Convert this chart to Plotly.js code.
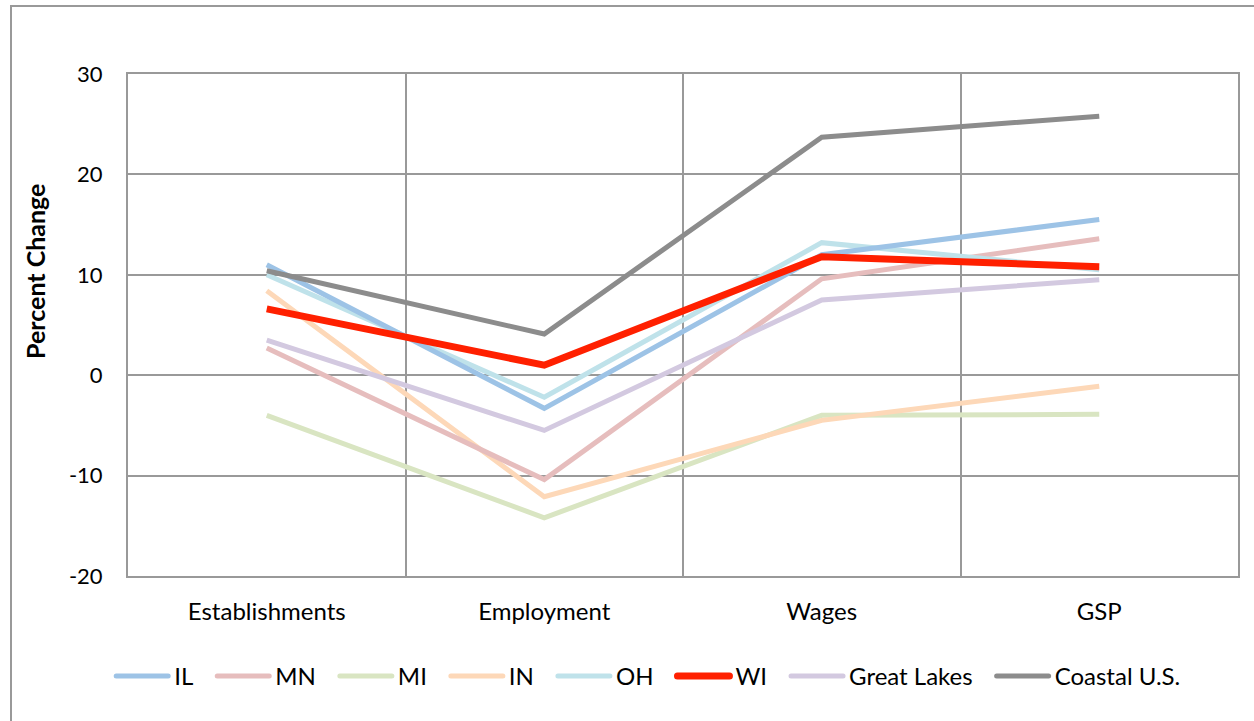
<!DOCTYPE html>
<html>
<head>
<meta charset="utf-8">
<script src="https://cdn.plot.ly/plotly-3.0.1.min.js"></script>
<style>html,body{margin:0;padding:0;background:#fff;}#chart{width:1254px;height:721px;}</style>
</head>
<body>
<div id="chart"></div>
<script>
const categories = ["Establishments", "Employment", "Wages", "GSP"];
const seriesNames = ["IL", "MN", "MI", "IN", "OH", "WI", "Great Lakes", "Coastal U.S."];
const IL = [11.0, -3.3, 12.0, 15.5];
const MN = [2.7, -10.4, 9.6, 13.6];
const MI = [-4.0, -14.2, -4.0, -3.9];
const IN = [8.4, -12.1, -4.5, -1.1];
const OH = [10.0, -2.2, 13.2, 10.5];
const WI = [6.6, 1.0, 11.8, 10.8];
const GreatLakes = [3.5, -5.5, 7.5, 9.5];
const Coastal = [10.4, 4.1, 23.7, 25.8];
const yTicks = [-20, -10, 0, 10, 20, 30];

const seriesValues = [IL, MN, MI, IN, OH, WI, GreatLakes, Coastal];
const colors = ["#9dc3e6", "#e6bdbd", "#d9e5c2", "#fdd8b8", "#bfe2ea", "#ff2000", "#d3c9e0", "#8c8c8c"];
const widths = [5, 5, 5, 5, 5, 7, 5, 5];

const order = [2, 3, 1, 6, 4, 0, 7, 5];
const traces = order.map(i => ({
  type: "scatter",
  mode: "lines",
  name: seriesNames[i],
  x: categories,
  y: seriesValues[i],
  line: {color: colors[i], width: widths[i]},
  legendrank: i + 1
}));

const font = "Lato, 'Open Sans', 'DejaVu Sans', sans-serif";
const layout = {
  width: 1254, height: 721,
  margin: {l: 128, r: 16, t: 74, b: 145},
  paper_bgcolor: "#ffffff",
  plot_bgcolor: "#ffffff",
  font: {family: font, size: 22, color: "#000"},
  showlegend: true,
  legend: {
    orientation: "h", x: 0.47, xanchor: "center", y: -0.155, yanchor: "top",
    font: {family: font, size: 24, color: "#000"},
    traceorder: "normal", itemwidth: 51
  },
  xaxis: {
    type: "category",
    range: [-0.5, 3.5],
    tickson: "boundaries",
    showgrid: true, gridcolor: "#999999", gridwidth: 2,
    showline: true, linecolor: "#999999", linewidth: 2, mirror: true,
    ticks: "", ticklabelstandoff: 13,
    tickfont: {family: font, size: 24, color: "#000"},
    zeroline: false, fixedrange: true
  },
  yaxis: {
    range: [-20, 30],
    tickvals: yTicks,
    ticktext: yTicks.map(String),
    showgrid: true, gridcolor: "#999999", gridwidth: 2,
    showline: true, linecolor: "#999999", linewidth: 2, mirror: true,
    zeroline: false,
    ticks: "", ticklabelstandoff: 19,
    tickfont: {family: font, size: 22, color: "#000"},
    fixedrange: true
  },
  annotations: [{
    text: "<b>Percent Change</b>", textangle: -90,
    xref: "paper", yref: "paper",
    x: (35 - 128) / 1110, y: (576 - 272) / 502,
    xanchor: "center", yanchor: "middle", showarrow: false,
    font: {family: font, size: 25, color: "#000"}
  }],
  shapes: [{
    type: "rect", xref: "paper", yref: "paper",
    x0: (11 - 128) / 1110, x1: (1262 - 128) / 1110,
    y0: (576 - 730) / 502, y1: (576 - 6) / 502,
    line: {color: "#999999", width: 2}, fillcolor: "rgba(0,0,0,0)", layer: "below"
  }]
};

Plotly.newPlot("chart", traces, layout, {displayModeBar: false, staticPlot: true}).then(gd => {
  // lengthen the legend line symbols to match the reference
  gd.querySelectorAll(".legend .legendlines path").forEach(p => {
    p.setAttribute("d", "M3,0h52");
    p.style.strokeLinecap = "round";
  });
  // spread legend entries a little wider, keeping the legend centred
  const sb = gd.querySelector(".legend .scrollbox");
  if (sb) sb.removeAttribute("clip-path");
  const items = Array.from(gd.querySelectorAll(".legend .traces"));
  const extra = 16, n = items.length;
  items.forEach((it, i) => {
    const t = it.getAttribute("transform") || "";
    const m = t.match(/translate\(\s*([-\d.]+)[ ,]+([-\d.]+)\s*\)/);
    if (m) {
      const x = parseFloat(m[1]) + i * extra - (n - 1) * extra / 2;
      it.setAttribute("transform", "translate(" + x + "," + m[2] + ")");
    }
  });
});
</script>
</body>
</html>
